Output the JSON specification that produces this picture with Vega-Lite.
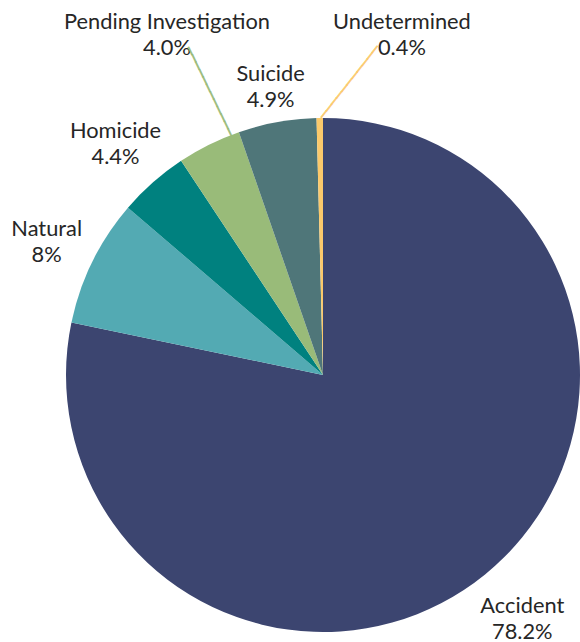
{
  "$schema": "https://vega.github.io/schema/vega-lite/v6.json",
  "width": 514,
  "height": 514,
  "autosize": {"type": "none"},
  "padding": {"left": 66, "top": 118, "right": 0, "bottom": 10},
  "background": "white",
  "view": {"stroke": null},
  "data": {
    "values": [
      {"cat": "Accident", "value": 78.2, "pct": "78.2%", "order": 1},
      {"cat": "Natural", "value": 8.0, "pct": "8%", "order": 2},
      {"cat": "Homicide", "value": 4.4, "pct": "4.4%", "order": 3},
      {"cat": "Pending Investigation", "value": 4.0, "pct": "4.0%", "order": 4},
      {"cat": "Suicide", "value": 4.9, "pct": "4.9%", "order": 5},
      {"cat": "Undetermined", "value": 0.4, "pct": "0.4%", "order": 6}
    ]
  },
  "transform": [
    {"window": [{"op": "sum", "field": "value", "as": "cum"}], "sort": [{"field": "order"}], "frame": [null, 0]},
    {"calculate": "datum.cum - datum.value / 2", "as": "mid"},
    {"calculate": "[datum.cat, datum.pct]", "as": "label"}
  ],
  "encoding": {
    "theta": {"field": "mid", "type": "quantitative", "stack": null}
  },
  "layer": [
    {
      "mark": {"type": "arc"},
      "encoding": {
        "theta": {"field": "value", "type": "quantitative", "stack": true},
        "order": {"field": "order", "type": "quantitative"},
        "color": {
          "field": "cat",
          "type": "nominal",
          "legend": null,
          "scale": {
            "domain": ["Accident", "Natural", "Homicide", "Pending Investigation", "Suicide", "Undetermined"],
            "range": ["#3c4570", "#53aab3", "#00817f", "#99bb79", "#4f7679", "#fbc96b"]
          }
        }
      }
    },
    {
      "transform": [{"filter": "datum.cat === 'Accident'"}],
      "mark": {"type": "text", "radius": 316, "dy": -14, "font": "Lato", "fontSize": 21.8, "lineHeight": 26, "color": "#262626", "align": "center", "baseline": "middle"},
      "encoding": {"text": {"field": "label"}}
    },
    {
      "transform": [{"filter": "datum.cat === 'Natural'"}],
      "mark": {"type": "text", "radius": 308, "dy": -10, "font": "Lato", "fontSize": 21.8, "lineHeight": 26, "color": "#262626", "align": "center", "baseline": "middle"},
      "encoding": {"text": {"field": "label"}}
    },
    {
      "transform": [{"filter": "datum.cat === 'Homicide'"}],
      "mark": {"type": "text", "radius": 312, "dy": -10, "dx": -1, "font": "Lato", "fontSize": 21.8, "lineHeight": 26, "color": "#262626", "align": "center", "baseline": "middle"},
      "encoding": {"text": {"field": "label"}}
    },
    {
      "transform": [{"filter": "datum.cat === 'Suicide'"}],
      "mark": {"type": "text", "radius": 294, "dy": -12, "font": "Lato", "fontSize": 21.8, "lineHeight": 26, "color": "#262626", "align": "center", "baseline": "middle"},
      "encoding": {"text": {"field": "label"}}
    },
    {
      "transform": [{"filter": "datum.cat === 'Pending Investigation'"}],
      "mark": {"type": "text", "radius": 375, "thetaOffset": 0.03, "dy": -12, "font": "Lato", "fontSize": 21.8, "lineHeight": 26, "color": "#262626", "align": "center", "baseline": "middle"},
      "encoding": {"text": {"field": "label"}}
    },
    {
      "transform": [{"filter": "datum.cat === 'Undetermined'"}],
      "mark": {"type": "text", "radius": 350, "thetaOffset": 0.24, "dy": -12, "font": "Lato", "fontSize": 21.8, "lineHeight": 26, "color": "#262626", "align": "center", "baseline": "middle"},
      "encoding": {"text": {"field": "label"}}
    },
    {
      "transform": [{"filter": "datum.cat === 'Pending Investigation'"}],
      "mark": {"type": "text", "radius": 305, "thetaOffset": 0.0778, "angle": 64.2, "font": "DejaVu Sans Mono", "fontSize": 13.7, "color": "#99bb79", "stroke": "#99bb79", "strokeWidth": 0.6, "align": "center", "baseline": "middle"},
      "encoding": {"text": {"value": "────────────"}}
    },
    {
      "transform": [{"filter": "datum.cat === 'Undetermined'"}],
      "mark": {"type": "text", "radius": 294, "thetaOffset": 0.1045, "angle": 308.3, "font": "DejaVu Sans Mono", "fontSize": 13.7, "color": "#fbc96b", "stroke": "#fbc96b", "strokeWidth": 0.6, "align": "center", "baseline": "middle"},
      "encoding": {"text": {"value": "───────────"}}
    }
  ]
}
